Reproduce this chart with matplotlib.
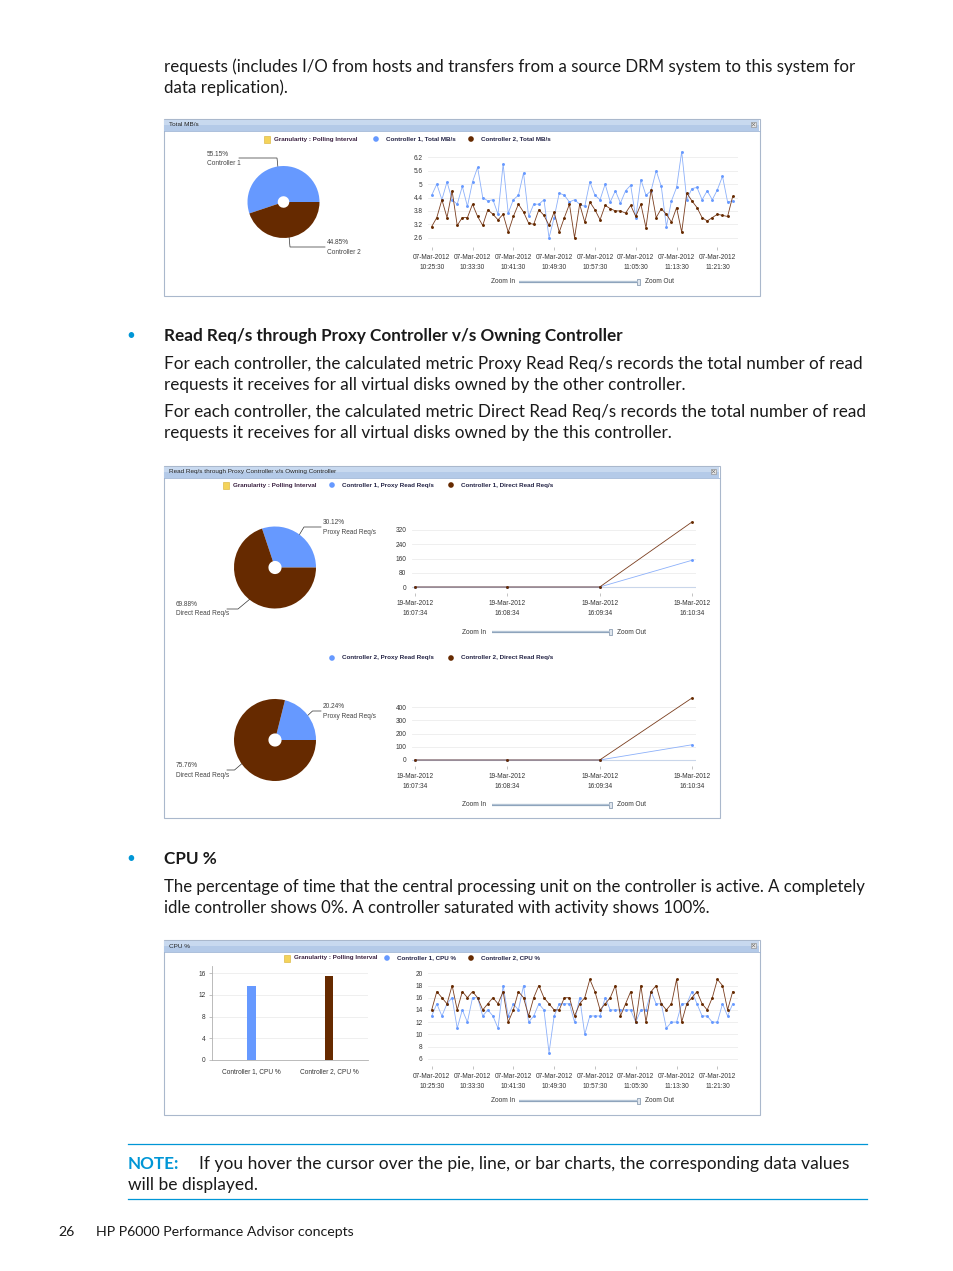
import matplotlib
matplotlib.use("Agg")
import matplotlib.pyplot as plt
from matplotlib.patches import Rectangle, Circle

W, H = 954, 1271

# ---------------- data ----------------
mbs_ctrl1 = [4.5, 5.0, 4.3, 5.1, 4.3, 4.1, 4.9, 4.0, 5.1, 5.75,
             4.4, 4.25, 4.3, 3.65, 5.9, 3.7, 4.3, 4.5, 5.5, 3.55,
             4.1, 4.1, 4.3, 2.6, 3.5, 4.6, 4.5, 4.2, 4.3, 4.1,
             4.0, 5.1, 4.5, 4.3, 5.0, 4.2, 4.7, 4.15, 4.7, 4.95,
             3.5, 5.2, 4.5, 4.7, 5.6, 4.9, 3.1, 4.25, 4.85, 6.45,
             4.3, 4.8, 4.85, 4.3, 4.7, 4.3, 4.75, 5.35, 4.2, 4.25]
mbs_ctrl2 = [3.1, 3.5, 4.3, 3.5, 4.7, 3.15, 3.5, 3.5, 4.1, 3.55,
             3.15, 3.85, 3.65, 3.4, 3.65, 2.85, 3.55, 4.1, 3.75, 3.25,
             3.2, 3.85, 3.6, 3.15, 3.75, 2.85, 3.5, 4.1, 2.6, 4.1,
             3.3, 4.2, 3.85, 3.4, 4.05, 3.9, 3.8, 3.8, 3.7, 4.05,
             3.55, 4.1, 3.05, 4.75, 3.5, 3.9, 3.65, 3.3, 3.95, 2.85,
             4.6, 4.25, 3.95, 3.5, 3.35, 3.5, 3.65, 3.6, 3.55, 4.45]
mbs_yticks = [2.6, 3.2, 3.8, 4.4, 5, 5.6, 6.2]
mbs_ylabels = ["2.6", "3.2", "3.8", "4.4", "5", "5.6", "6.2"]

cpu_ctrl1 = [13, 15, 13, 15, 16, 11, 14, 12, 16, 16,
             13, 14, 13, 11, 18, 13, 15, 14, 18, 12,
             13, 15, 14, 7, 13, 15, 15, 15, 12, 16,
             10, 13, 13, 13, 16, 14, 14, 14, 14, 14,
             12, 14, 14, 17, 15, 15, 11, 12, 12, 15,
             15, 17, 15, 13, 13, 12, 12, 15, 13, 15]
cpu_ctrl2 = [14, 17, 16, 15, 18, 14, 17, 16, 17, 16,
             14, 15, 16, 15, 17, 12, 14, 17, 16, 13,
             16, 18, 16, 15, 14, 14, 16, 16, 13, 15,
             16, 19, 17, 14, 15, 16, 18, 13, 15, 17,
             12, 18, 12, 17, 18, 15, 14, 15, 19, 12,
             15, 16, 17, 15, 14, 16, 19, 18, 14, 17]
cpu_yticks = [6, 8, 10, 12, 14, 16, 18, 20]

time_labels = ["07-Mar-2012\n10:25:30", "07-Mar-2012\n10:33:30",
               "07-Mar-2012\n10:41:30", "07-Mar-2012\n10:49:30",
               "07-Mar-2012\n10:57:30", "07-Mar-2012\n11:05:30",
               "07-Mar-2012\n11:13:30", "07-Mar-2012\n11:21:30"]

pie_total = [55.15, 44.85]
pie_total_labels = ["55.15%\nController 1", "44.85%\nController 2"]
pie_c1 = [30.12, 69.88]
pie_c1_labels = ["30.12%\nProxy Read Req/s", "69.88%\nDirect Read Req/s"]
pie_c2 = [20.24, 75.76]
pie_c2_labels = ["20.24%\nProxy Read Req/s", "75.76%\nDirect Read Req/s"]

req_labels = ["19-Mar-2012\n16:07:34", "19-Mar-2012\n16:08:34",
              "19-Mar-2012\n16:09:34", "19-Mar-2012\n16:10:34"]
req_c1_proxy = [0, 0, 0, 150]
req_c1_direct = [0, 0, 0, 365]
req_c1_yticks = [0, 80, 160, 240, 320]
req_c2_proxy = [0, 0, 0, 115]
req_c2_direct = [0, 0, 0, 468]
req_c2_yticks = [0, 100, 200, 300, 400]

cpu_bar_labels = ["Controller 1, CPU %", "Controller 2, CPU %"]
cpu_bar_values = [13.7, 15.45]
cpu_bar_yticks = [0, 4, 8, 12, 16]

# ---------------- style ----------------
BLUE = "#6699ff"
BLUE_LINE = "#8cb0fa"
BROWN = "#662a00"
BROWN_LINE = "#7a3d1e"
HP_BLUE = "#0096d6"
BODY = "Lato"
SMALL = "Liberation Sans"
TXT = "#1a1a1a"
TICK_FS = 4.7

fig = plt.figure(figsize=(W / 100, H / 100), dpi=100)
page = fig.add_axes([0, 0, 1, 1])
page.set_xlim(0, W)
page.set_ylim(H, 0)
page.axis("off")


def rect(x0, y0, x1, y1):
    return [x0 / W, 1 - y1 / H, (x1 - x0) / W, (y1 - y0) / H]


def span(p0, v0, p1, v1, a, b):
    k = (v1 - v0) / (p1 - p0)
    return v0 + (a - p0) * k, v0 + (b - p0) * k


def body(x, y, s, **kw):
    kw.setdefault("fontsize", 12.3)
    kw.setdefault("color", TXT)
    page.text(x, y + 0.7, s, family=BODY, va="center", ha="left", **kw)


def small(x, y, s, **kw):
    kw.setdefault("fontsize", 4.5)
    kw.setdefault("color", "#333333")
    kw.setdefault("va", "center")
    kw.setdefault("ha", "left")
    page.text(x, y, s, family=SMALL, **kw)


def panel(x0, y0, x1, y1, title):
    page.add_patch(Rectangle((x0, y0), x1 - x0, y1 - y0, fc="white",
                             ec="#aab8cc", lw=0.8))
    page.add_patch(Rectangle((x0 + 0.5, y0 + 0.5), x1 - x0 - 1, 11,
                             fc="#c8d9ef", ec="none"))
    page.add_patch(Rectangle((x0 + 0.5, y0 + 6), x1 - x0 - 1, 5.5,
                             fc="#b4cae8", ec="none"))
    page.plot([x0, x1], [y0 + 11.5, y0 + 11.5], color="#9fb5d6", lw=0.6)
    small(x0 + 5, y0 + 6, title, fontsize=4.6, color="#222222")
    page.add_patch(Rectangle((x1 - 9, y0 + 3), 5, 5, fc="#e8e8e8",
                             ec="#888888", lw=0.4))
    page.plot([x1 - 8, x1 - 5], [y0 + 4, y0 + 7], color="#666", lw=0.4)
    page.plot([x1 - 8, x1 - 5], [y0 + 7, y0 + 4], color="#666", lw=0.4)


def legend_item(x, y, kind, label):
    if kind == "gran":
        page.add_patch(Rectangle((x - 3, y - 3), 6.5, 6.5, fc="#f4d35a",
                                 ec="#d8b030", lw=0.4))
        small(x + 7, y, label, fontweight="bold", color="#3a2040")
    else:
        page.add_patch(Circle((x, y), 2.8, fc=kind, ec="none"))
        small(x + 10, y, label, fontweight="bold", color="#222244")


def zoom_bar(x_in, x0, x1, y):
    small(x_in, y, "Zoom In", fontsize=4.7)
    page.plot([x0, x1], [y, y], color="#8ea4bc", lw=1.6, solid_capstyle="butt")
    page.plot([x0, x1], [y - 0.6, y - 0.6], color="#c5d2e0", lw=0.5)
    page.add_patch(Rectangle((x1, y - 3), 3, 6, fc="#dfe6ee", ec="#7a8ea6", lw=0.5))
    small(x1 + 8, y, "Zoom Out", fontsize=4.7)


def pie(cx, cy, r, vals, labels, leaders, label_pos):
    ax = fig.add_axes(rect(cx - r, cy - r, cx + r, cy + r))
    ax.pie(vals, colors=[BLUE, BROWN], startangle=0, counterclock=True,
           radius=1, wedgeprops=dict(width=0.84, edgecolor="none"))
    ax.set_xlim(-1, 1)
    ax.set_ylim(-1, 1)
    ax.axis("off")
    for pts in leaders:
        xs, ys = zip(*pts)
        page.plot(xs, ys, color="#333333", lw=0.5)
    for (lx, ly), lab in zip(label_pos, labels):
        small(lx, ly, lab, fontsize=4.7, color="#444444", va="top",
              linespacing=1.55)


def line_chart(box, px0, px1, py0, v0, py1, v1, series, yticks, ylabels,
               xticks, xlabels, zero_line=False):
    x0, y0, x1, y1 = box
    ax = fig.add_axes(rect(*box))
    ax.set_facecolor("none")
    n = len(series[0][0])
    ax.set_xlim(*span(px0, 0, px1, n - 1, x0, x1))
    ax.set_ylim(*span(py0, v0, py1, v1, y1, y0))
    for vals, lc, mc in series:
        ax.plot(range(n), vals, color=lc, lw=0.6, marker="o", ms=2.1,
                mfc=mc, mec=mc, mew=0, zorder=3, clip_on=False)
    ax.set_yticks(yticks)
    ax.set_yticklabels(ylabels)
    ax.yaxis.grid(True, color="#ececec", lw=0.6)
    if zero_line:
        ax.axhline(0, color="#c9d6ea", lw=0.8, zorder=1)
    ax.set_axisbelow(True)
    for s in ax.spines.values():
        s.set_visible(False)
    ax.set_xticks(xticks)
    ax.set_xticklabels(xlabels, linespacing=1.65)
    ax.tick_params(axis="y", length=0, pad=4, labelsize=TICK_FS,
                   labelcolor="#333333")
    ax.tick_params(axis="x", length=2.2, width=0.5, color="#aaaaaa", pad=3,
                   labelsize=TICK_FS, labelcolor="#333333")
    for lab in ax.get_xticklabels() + ax.get_yticklabels():
        lab.set_family(SMALL)
    return ax


# ---------------- page text ----------------
body(164, 66, "requests (includes I/O from hosts and transfers from a source DRM system to this system for", fontsize=12.15)
body(164, 87, "data replication).", fontsize=12.15)

page.text(131, 336, "\u2022", color=HP_BLUE, fontsize=11, va="center", ha="center", family=BODY)
body(164, 335, "Read Req/s through Proxy Controller v/s Owning Controller", fontweight="bold")
body(164, 363, "For each controller, the calculated metric Proxy Read Req/s records the total number of read")
body(164, 384, "requests it receives for all virtual disks owned by the other controller.")
body(164, 411, "For each controller, the calculated metric Direct Read Req/s records the total number of read")
body(164, 432, "requests it receives for all virtual disks owned by the this controller.")

page.text(131, 859, "\u2022", color=HP_BLUE, fontsize=11, va="center", ha="center", family=BODY)
body(164, 858, "CPU %", fontweight="bold")
body(164, 886, "The percentage of time that the central processing unit on the controller is active. A completely", fontsize=12.05)
body(164, 907, "idle controller shows 0%. A controller saturated with activity shows 100%.", fontsize=12.05)

page.plot([128, 867], [1144, 1144], color=HP_BLUE, lw=0.9)
body(128, 1163, "NOTE:", fontweight="bold", color=HP_BLUE)
body(199, 1163, "If you hover the cursor over the pie, line, or bar charts, the corresponding data values", fontsize=12.5)
body(128, 1184, "will be displayed.", fontsize=12.5)
page.plot([128, 867], [1199, 1199], color=HP_BLUE, lw=0.9)

body(58, 1231, "26", fontsize=10.2)
body(96, 1231, "HP P6000 Performance Advisor concepts", fontsize=10.2)

# ---------------- panel 1: Total MB/s ----------------
panel(164, 119, 760, 296, "Total MB/s")
legend_item(267, 139, "gran", "Granularity : Polling Interval")
legend_item(376, 139, BLUE, "Controller 1, Total MB/s")
legend_item(471, 139, BROWN, "Controller 2, Total MB/s")
pie(283.5, 202, 36, pie_total, pie_total_labels,
    [[(239, 158), (277, 158), (278, 168)], [(289, 236), (290, 247), (325, 247)]],
    [(207, 150.5), (327, 239.5)])
line_chart((428, 150, 738, 247), 431.7, 732.7, 157.3, 6.2, 237.7, 2.6,
           [(mbs_ctrl1, BLUE_LINE, BLUE), (mbs_ctrl2, BROWN_LINE, BROWN)],
           mbs_yticks, mbs_ylabels, list(range(0, 60, 8)), time_labels)
zoom_bar(491, 519, 637, 281.5)

# ---------------- panel 2: Read Req/s ----------------
panel(164, 466, 720, 818, "Read Req/s through Proxy Controller v/s Owning Controller")
legend_item(226, 485, "gran", "Granularity : Polling Interval")
legend_item(332, 485, BLUE, "Controller 1, Proxy Read Req/s")
legend_item(451, 485, BROWN, "Controller 1, Direct Read Req/s")
pie(275, 567.5, 41, pie_c1, pie_c1_labels,
    [[(298, 537), (304, 527), (321, 527)], [(227, 609), (238, 609), (250, 599)]],
    [(323, 519.5), (176, 600.5)])
line_chart((412, 514, 696, 593), 415, 692, 587, 0, 530, 320,
           [(req_c1_proxy, BLUE_LINE, BLUE), (req_c1_direct, BROWN_LINE, BROWN)],
           req_c1_yticks, [str(v) for v in req_c1_yticks], range(4), req_labels,
           zero_line=True)
zoom_bar(462, 492, 609, 632)

legend_item(332, 658, BLUE, "Controller 2, Proxy Read Req/s")
legend_item(451, 658, BROWN, "Controller 2, Direct Read Req/s")
pie(275, 740, 41, pie_c2, pie_c2_labels,
    [[(305, 718), (312.5, 711), (321, 711)], [(227, 770), (234.5, 770), (245, 761)]],
    [(323, 703), (176, 762)])
line_chart((412, 690, 696, 766), 415, 692, 760, 0, 707, 400,
           [(req_c2_proxy, BLUE_LINE, BLUE), (req_c2_direct, BROWN_LINE, BROWN)],
           req_c2_yticks, [str(v) for v in req_c2_yticks], range(4), req_labels,
           zero_line=True)
zoom_bar(462, 492, 609, 805)

# ---------------- panel 3: CPU % ----------------
panel(164, 940, 760, 1115, "CPU %")
legend_item(287, 958, "gran", "Granularity : Polling Interval")
legend_item(387, 958, BLUE, "Controller 1, CPU %")
legend_item(471, 958, BROWN, "Controller 2, CPU %")

bx = fig.add_axes(rect(212.5, 966, 368, 1060))
bx.set_facecolor("none")
bx.set_xlim(*span(251.3, 0, 329, 1, 212.5, 368))
bx.set_ylim(*span(1060, 0, 973.3, 16, 1060, 966))
bx.bar(range(2), cpu_bar_values, width=8.5 / 77.7, color=[BLUE, BROWN], zorder=3)
bx.set_yticks(cpu_bar_yticks)
bx.yaxis.grid(True, color="#ececec", lw=0.6)
bx.set_axisbelow(True)
for side in ("top", "right"):
    bx.spines[side].set_visible(False)
bx.spines["left"].set_color("#b0b0b0")
bx.spines["bottom"].set_color("#b0b0b0")
bx.spines["left"].set_linewidth(0.6)
bx.spines["bottom"].set_linewidth(0.6)
bx.set_xticks(range(2))
bx.set_xticklabels(cpu_bar_labels)
bx.tick_params(axis="y", length=2, width=0.5, color="#aaaaaa", pad=3,
               labelsize=TICK_FS, labelcolor="#333333")
bx.tick_params(axis="x", length=0, pad=6, labelsize=TICK_FS, labelcolor="#333333")
for lab in bx.get_xticklabels() + bx.get_yticklabels():
    lab.set_family(SMALL)

line_chart((428, 966, 738, 1066), 431.7, 732.7, 973.3, 20, 1058.7, 6,
           [(cpu_ctrl1, BLUE_LINE, BLUE), (cpu_ctrl2, BROWN_LINE, BROWN)],
           cpu_yticks, [str(v) for v in cpu_yticks], list(range(0, 60, 8)),
           time_labels)
zoom_bar(491, 519, 637, 1101)

fig.savefig("out.png", dpi=100)
